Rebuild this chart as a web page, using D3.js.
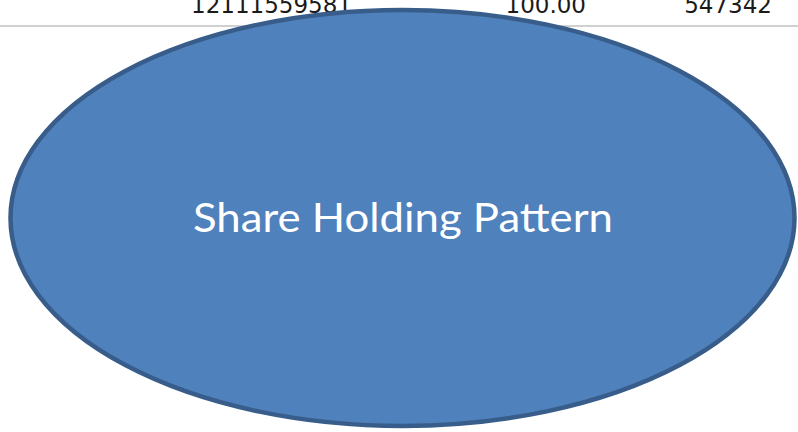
<!DOCTYPE html>
<html>
<head>
<meta charset="utf-8">
<script src="https://cdn.jsdelivr.net/npm/d3@7"></script>
<style>
  body { margin: 0; background: #fff; }
  svg { display: block; }
</style>
</head>
<body>
<svg width="798" height="432"></svg>
<script>
// last row of the table peeking above the shape
let rowValues = ["12111559581", "100.00", "547342"];
let rowRight = [352, 586, 772];
let title = ["Share Holding Pattern"];

let width = 798,
    height = 432;

let svg = d3.select("svg");

// table row text (top cut off by the page edge)
svg.append("g")
    .selectAll("text")
    .data(rowValues)
    .join("text")
    .attr("x", (d, i) => rowRight[i])
    .attr("y", 13)
    .attr("text-anchor", "end")
    .attr("font-family", "DejaVu Sans, sans-serif")
    .attr("font-size", 23)
    .attr("fill", "#1a1a1a")
    .text(d => d);

svg.append("line")
    .attr("x1", 0)
    .attr("x2", width)
    .attr("y1", 26)
    .attr("y2", 26)
    .attr("stroke", "#d0d0d0")
    .attr("stroke-width", 2);

// the big ellipse
svg.append("ellipse")
    .attr("cx", 402.5)
    .attr("cy", 218)
    .attr("rx", 392)
    .attr("ry", 208)
    .attr("fill", "#4f81bd")
    .attr("stroke", "#385d8a")
    .attr("stroke-width", 4.5);

svg.selectAll(".title")
    .data(title)
    .join("text")
    .attr("class", "title")
    .attr("x", 403)
    .attr("y", 232)
    .attr("text-anchor", "middle")
    .attr("font-family", "Lato, Open Sans, sans-serif")
    .attr("font-size", 41)
    .attr("textLength", 420)
    .attr("lengthAdjust", "spacingAndGlyphs")
    .attr("fill", "#fff")
    .text(d => d);
</script>
</body>
</html>
